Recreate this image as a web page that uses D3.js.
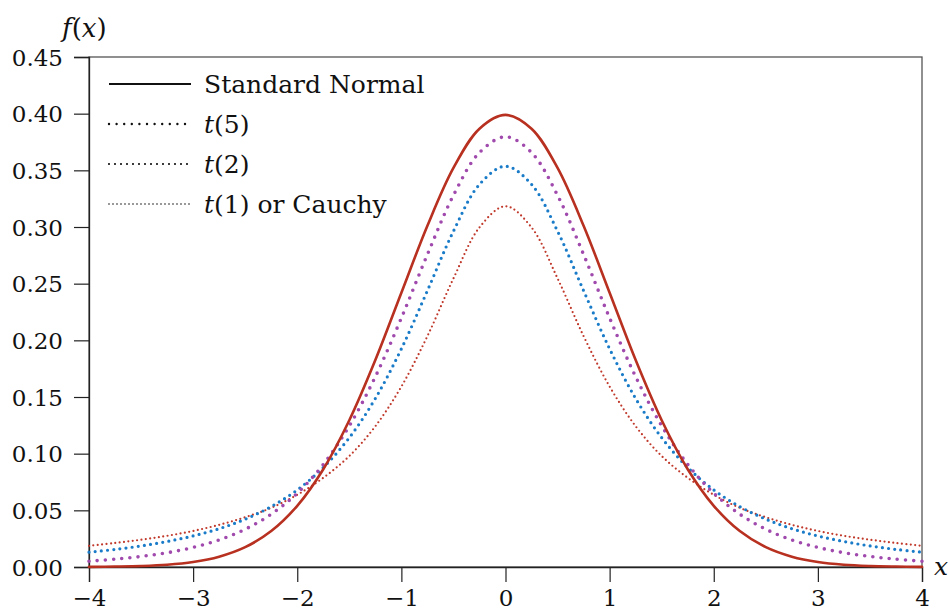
<!DOCTYPE html>
<html>
<head>
<meta charset="utf-8">
<script src="https://cdn.jsdelivr.net/npm/d3@7"></script>
<style>
  body { margin: 0; background: #fff; }
  text { font-family: "DejaVu Serif", "Liberation Serif", serif; }
</style>
</head>
<body>
<script>
// x grid the curves were read on
var xs = d3.range(-4, 4.001, 0.25);

// densities, x = -4 .. 4 step 0.25
var normal = [0.0001,0.0004,0.0009,0.0020,0.0044,0.0091,0.0175,0.0317,0.0540,0.0863,0.1295,0.1826,0.2420,0.3011,0.3521,0.3867,
  0.3989,
  0.3867,0.3521,0.3011,0.2420,0.1826,0.1295,0.0863,0.0540,0.0317,0.0175,0.0091,0.0044,0.0020,0.0009,0.0004,0.0001];
var t5 = [0.0051,0.0069,0.0093,0.0126,0.0173,0.0239,0.0333,0.0466,0.0651,0.0905,0.1245,0.1679,0.2197,0.2757,0.3279,0.3657,
  0.3796,
  0.3657,0.3279,0.2757,0.2197,0.1679,0.1245,0.0905,0.0651,0.0466,0.0333,0.0239,0.0173,0.0126,0.0093,0.0069,0.0051];
var t2 = [0.0131,0.0155,0.0186,0.0225,0.0274,0.0338,0.0422,0.0533,0.0680,0.0878,0.1141,0.1487,0.1925,0.2438,0.2963,0.3376,
  0.3536,
  0.3376,0.2963,0.2438,0.1925,0.1487,0.1141,0.0878,0.0680,0.0533,0.0422,0.0338,0.0274,0.0225,0.0186,0.0155,0.0131];
var cauchy = [0.0187,0.0212,0.0241,0.0275,0.0318,0.0372,0.0439,0.0522,0.0637,0.0787,0.0979,0.1242,0.1592,0.2037,0.2546,0.2996,
  0.3183,
  0.2996,0.2546,0.2037,0.1592,0.1242,0.0979,0.0787,0.0637,0.0522,0.0439,0.0372,0.0318,0.0275,0.0241,0.0212,0.0187];

var xTicks = [-4,-3,-2,-1,0,1,2,3,4];
var yTicks = [0,0.05,0.10,0.15,0.20,0.25,0.30,0.35,0.40,0.45];
var legendNames = ["Standard Normal", "t(5)", "t(2)", "t(1) or Cauchy"];

var W = 948, H = 611;
var L = 89, R = 922, T = 57, B = 567;

var svg = d3.select("body").append("svg").attr("width", W).attr("height", H);

var x = d3.scaleLinear().domain([-4, 4]).range([L, R]);
var y = d3.scaleLinear().domain([0, 0.45]).range([B, T]);

// frame
svg.append("rect").attr("x", L).attr("y", T).attr("width", R - L).attr("height", B - T)
  .attr("fill", "none").attr("stroke", "#555").attr("stroke-width", 1.3);

// axes
var yAxis = d3.axisLeft(y).tickValues(yTicks).tickSize(15).tickPadding(11)
  .tickFormat(d3.format(".2f"));
var gy = svg.append("g").attr("transform", "translate(" + L + ",0)").call(yAxis);
var xAxis = d3.axisBottom(x).tickValues(xTicks).tickSize(15).tickPadding(10)
  .tickFormat(function(d){ return d < 0 ? "\u2212" + (-d) : d; });
var gx = svg.append("g").attr("transform", "translate(0," + B + ")").call(xAxis);

[gx, gy].forEach(function(g){
  g.select(".domain").attr("stroke", "#222").attr("stroke-width", 1.3);
  g.selectAll(".tick line").attr("stroke", "#222").attr("stroke-width", 1.2);
  g.selectAll(".tick text").attr("fill", "#111").style("font-size", "23px")
    .style("font-family", "'DejaVu Serif', serif");
});
gx.selectAll(".tick text").attr("dy", "0.62em");
gy.selectAll(".tick text").attr("dy", "0.36em");

// curves
var line = d3.line()
  .x(function(d, i){ return x(xs[i]); })
  .y(function(d){ return y(d); })
  .curve(d3.curveCatmullRom);

var series = [
  {vals: cauchy, color: "#c0392b", width: 2.2, dash: "0 4.4"},
  {vals: t2, color: "#1a7cc8", width: 3.2, dash: "0 6.2"},
  {vals: t5, color: "#a04aad", width: 3.6, dash: "0 8.2"},
  {vals: normal, color: "#b8301f", width: 2.6, dash: null}
];

series.forEach(function(s){
  var p = svg.append("path").datum(s.vals)
    .attr("d", line)
    .attr("fill", "none")
    .attr("stroke", s.color)
    .attr("stroke-width", s.width)
    .attr("stroke-linecap", "round");
  if (s.dash) p.attr("stroke-dasharray", s.dash);
});

// legend
var legDash = [null, "0 7.6", "0 6", "0 4"];
var legW = [2.2, 2.4, 2.2, 1.6];
var leg = svg.append("g");
legendNames.forEach(function(name, i){
  var yy = 84 + i * 40;
  var ln = leg.append("line").attr("x1", 109).attr("x2", 191).attr("y1", yy).attr("y2", yy)
    .attr("stroke", "#111").attr("stroke-width", legW[i]);
  if (legDash[i]) ln.attr("stroke-dasharray", legDash[i]).attr("stroke-linecap", "round");
  var t = leg.append("text").attr("x", 204).attr("y", yy + 9).attr("fill", "#111")
    .style("font-size", "25px");
  if (i === 0) {
    t.text(name);
  } else {
    var m = name.match(/^t(\(\d\))(.*)$/);
    t.append("tspan").style("font-style", "italic").text("t");
    t.append("tspan").text(m[1] + m[2]);
  }
});

// axis titles
var fx = svg.append("text").attr("x", 62).attr("y", 37).attr("fill", "#111").style("font-size", "26px");
fx.append("tspan").style("font-style", "italic").text("f");
fx.append("tspan").text("(");
fx.append("tspan").style("font-style", "italic").text("x");
fx.append("tspan").text(")");

svg.append("text").attr("x", 934).attr("y", 575).attr("fill", "#111")
  .style("font-size", "25px").style("font-style", "italic").text("x");
</script>
</body>
</html>
